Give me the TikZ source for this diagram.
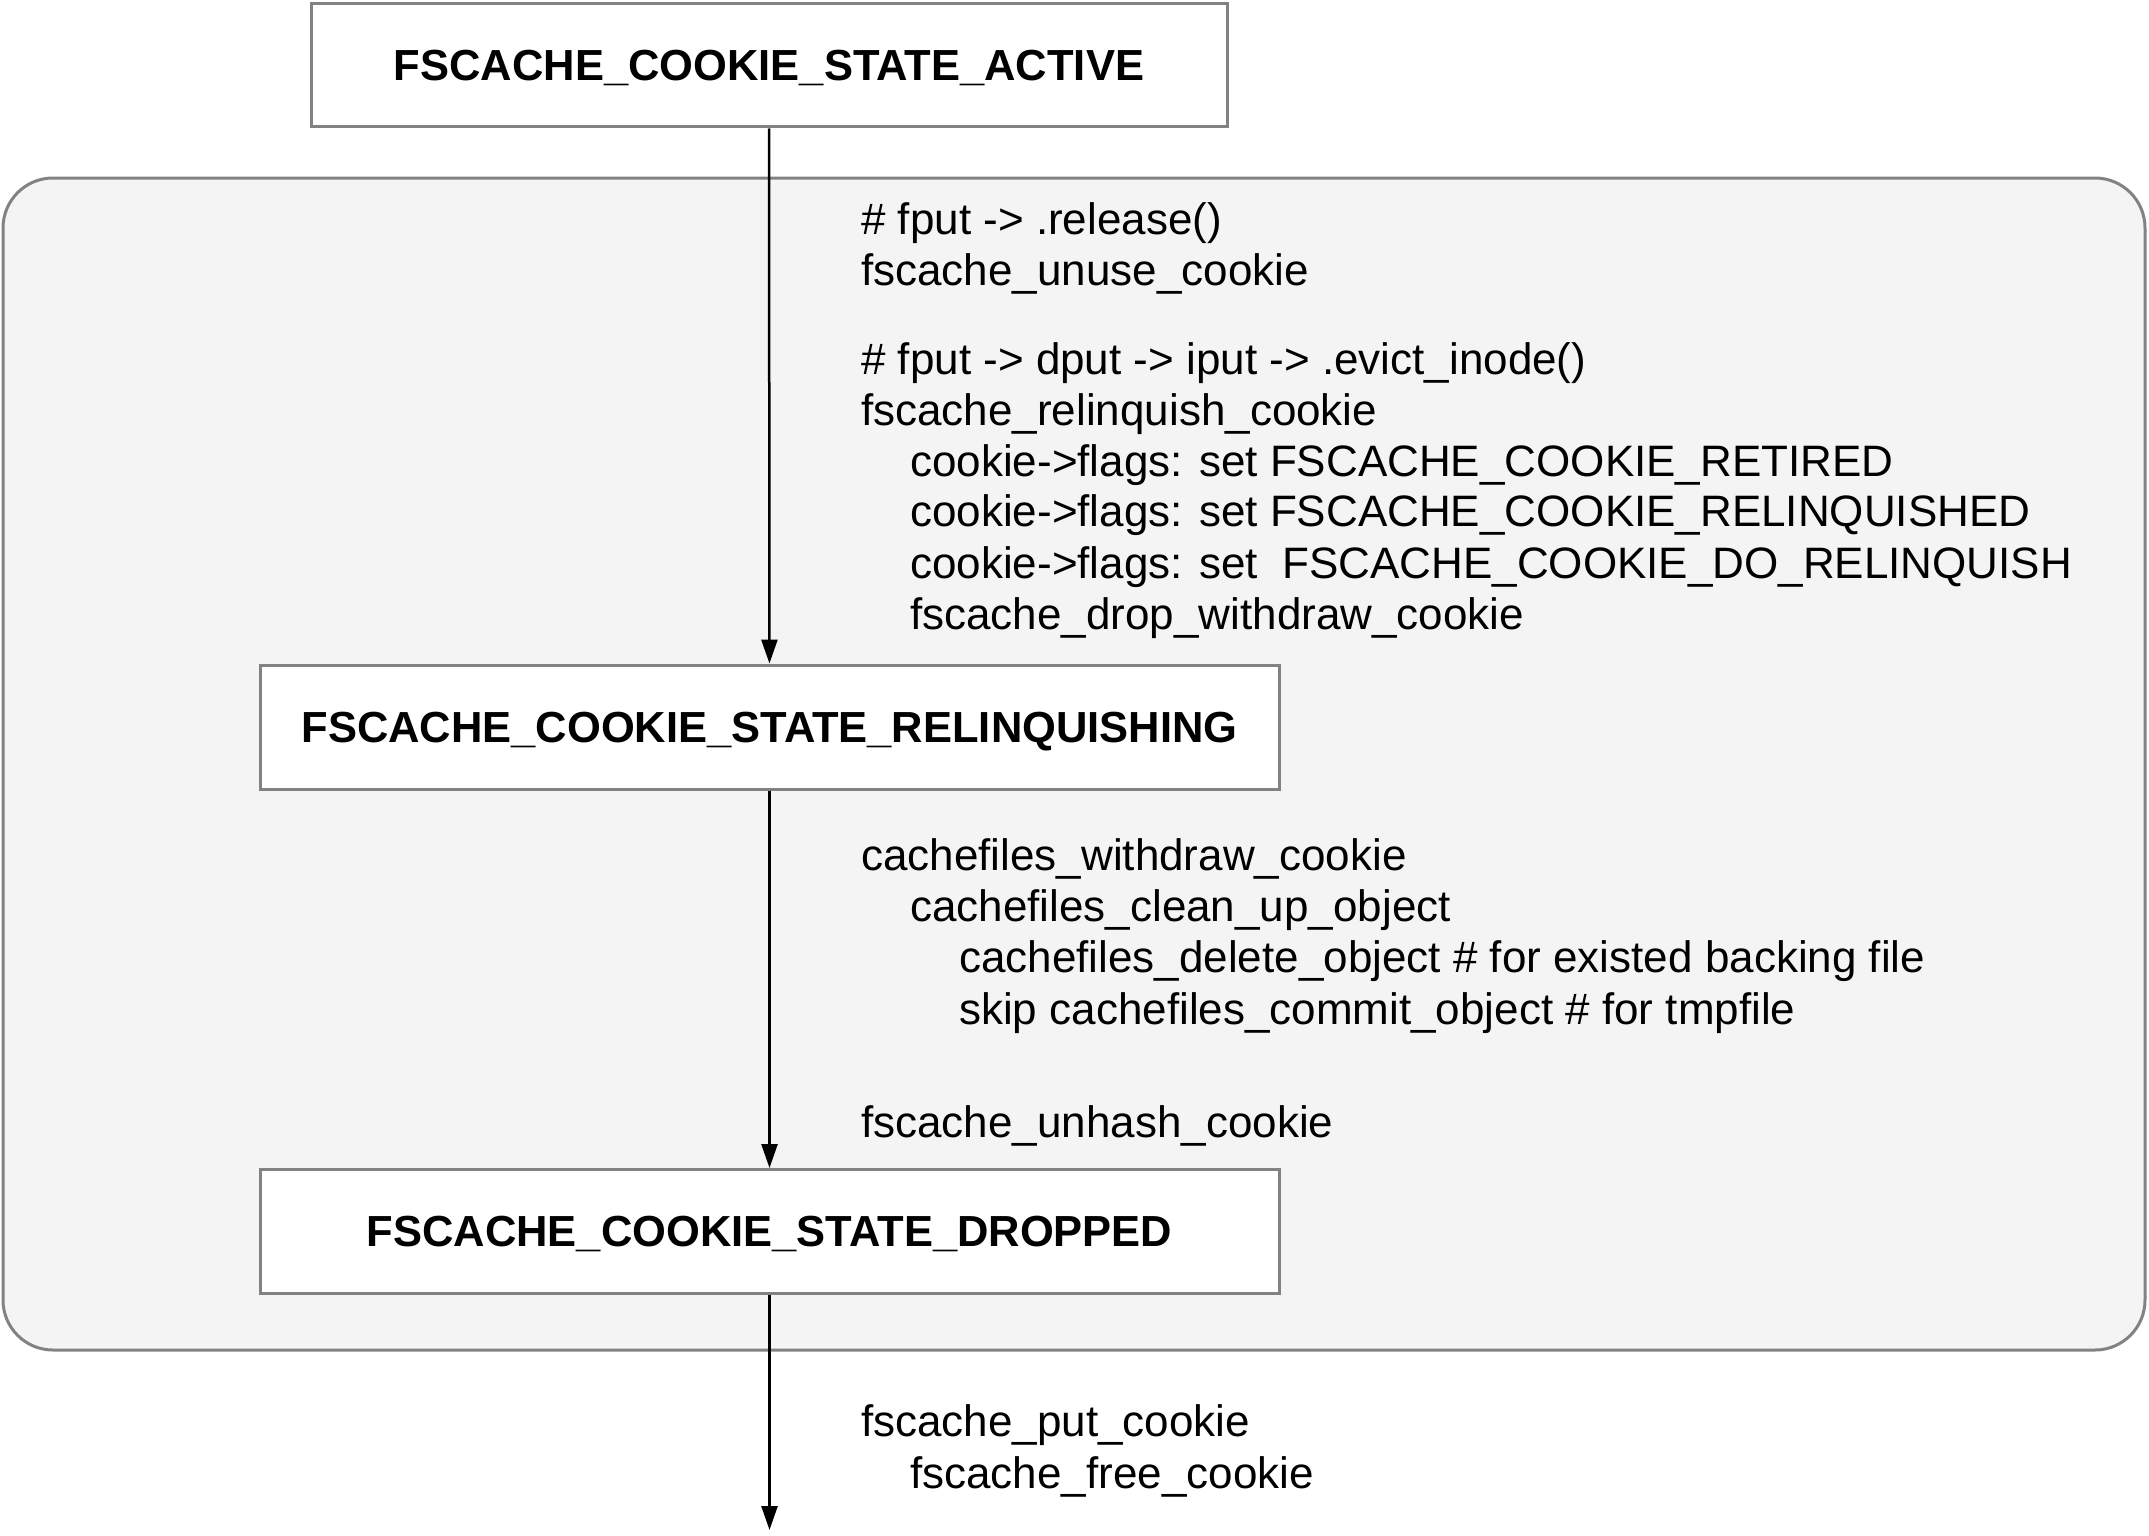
\documentclass[tikz,border=0pt]{standalone}
\usepackage{fontspec}
\setmainfont{Liberation Sans}
\usetikzlibrary{arrows.meta, positioning}
\definecolor{boxgray}{HTML}{828282}
\definecolor{groupfill}{HTML}{F4F4F4}

\tikzset{
  statebox/.style={draw=boxgray, line width=3pt, fill=white, inner sep=0pt,
    font=\fontsize{43.5pt}{50pt}\selectfont\bfseries, text depth=0pt,
    minimum width=1019pt, minimum height=124pt},
  flow/.style={line width=2.5pt, -{Triangle[length=24pt,width=16pt]}},
  group/.style={draw=boxgray, fill=groupfill, line width=3pt, rounded corners=50pt},
  note/.style={anchor=base west, inner sep=0pt,
    font=\fontsize{44pt}{51pt}\selectfont},
}

\begin{document}
\begin{tikzpicture}[x=1pt, y=-1pt]
\useasboundingbox (0,0) rectangle (2149,1536);
% shaded group round the last two states
\draw[group] (3,178) rectangle (2145,1350);
% states
\node[statebox, minimum width=916pt, minimum height=123pt] (active) at (769,65.5) {FSCACHE\_COOKIE\_STATE\_ACTIVE};
\node[statebox] (relinq) at (769.5,727) {FSCACHE\_COOKIE\_STATE\_RELINQUISHING};
\node[statebox] (dropped) at (769.5,1231.5) {FSCACHE\_COOKIE\_STATE\_DROPPED};
\coordinate (freed) at (769.5,1530);
% transitions
\draw[flow] (active) -- (relinq);
\draw[flow] (relinq) -- (dropped);
\draw[flow] (dropped) -- (freed);
% call notes
\foreach \n/\x/\y/\t in {
  1/861/234/{\# fput -> .release()},
  2/861/285/{fscache\_unuse\_cookie},
  3/861/374/{\# fput -> dput -> iput -> .evict\_inode()},
  4/861/425/{fscache\_relinquish\_cookie},
  5/910/476/{cookie->flags: set FSCACHE\_COOKIE\_RETIRED},
  6/910/526/{cookie->flags: set FSCACHE\_COOKIE\_RELINQUISHED},
  7/910/578/{cookie->flags: set\ \ FSCACHE\_COOKIE\_DO\_RELINQUISH},
  8/910/629/{fscache\_drop\_withdraw\_cookie},
  9/861/870/{cachefiles\_withdraw\_cookie},
  10/910/921/{cachefiles\_clean\_up\_object},
  11/959/972/{cachefiles\_delete\_object \# for existed backing file},
  12/959/1024/{skip cachefiles\_commit\_object \# for tmpfile},
  13/861/1137/{fscache\_unhash\_cookie},
  14/861/1436/{fscache\_put\_cookie},
  15/910/1488/{fscache\_free\_cookie}}
  \node[note] (note\n) at (\x,\y) {\t};
\end{tikzpicture}
\end{document}
